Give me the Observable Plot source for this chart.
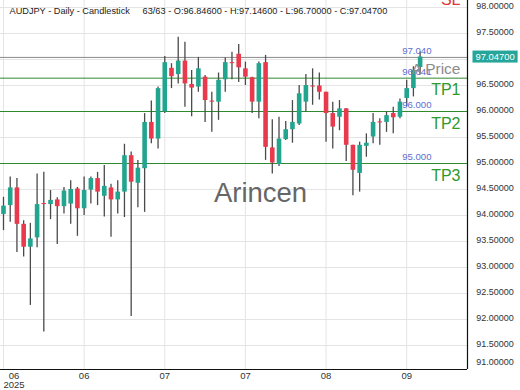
<!DOCTYPE html>
<html><head><meta charset="utf-8">
<script src="https://cdn.jsdelivr.net/npm/d3@7"></script>
<script src="https://cdn.jsdelivr.net/npm/@observablehq/plot@0.6"></script>
<style>
body{margin:0;background:#fff;}
#chart svg{display:block;}
</style></head><body><div id="chart"></div>
<script>
const opens = [94.02,94.19,94.53,93.83,93.39,93.57,94.23,94.21,94.30,94.17,94.22,94.51,94.13,94.49,94.71,94.37,94.53,94.30,94.45,95.15,94.62,94.90,95.79,95.47,95.99,96.83,96.71,96.97,96.52,96.47,96.66,96.20,96.18,96.61,96.94,97.10,96.82,96.65,96.18,96.94,95.30,94.98,95.46,95.65,95.76,96.18,96.49,96.49,96.37,95.96,95.89,96.05,95.35,94.81,95.33,95.51,95.80,95.79,95.96,95.89,96.25,96.44,96.846];
const highs = [94.35,94.74,94.71,93.90,93.85,94.80,94.83,94.48,94.34,94.54,94.67,94.54,94.74,94.74,94.83,94.96,94.60,94.67,95.37,95.22,95.06,95.96,96.20,96.47,97.06,96.92,97.43,97.33,96.79,97.04,96.69,96.37,96.74,97.03,97.14,97.29,96.95,96.66,96.95,97.08,95.84,95.89,95.81,96.21,96.50,96.71,96.82,96.74,96.37,96.18,96.21,96.06,95.35,95.41,95.57,95.96,95.86,95.99,96.08,96.24,96.60,96.86,97.146];
const lows = [93.71,93.87,93.29,93.20,92.27,93.38,91.76,93.92,93.44,94.03,93.83,93.60,94.00,94.22,94.19,93.97,93.58,94.03,93.96,92.06,94.15,94.06,95.38,95.28,95.96,96.44,96.53,96.08,95.90,96.37,95.79,95.60,95.83,96.37,96.61,96.56,96.50,95.96,95.86,95.06,94.80,94.94,95.44,95.39,95.73,95.99,96.12,96.22,95.41,95.28,95.63,95.04,94.38,94.45,95.12,95.38,95.35,95.60,95.57,95.86,96.09,96.28,96.70];
const closes = [94.18,94.53,93.83,93.39,93.55,94.21,94.21,94.29,94.17,94.47,94.50,94.13,94.48,94.71,94.45,94.56,94.30,94.45,95.15,94.64,94.91,95.79,95.47,96.44,96.94,96.67,96.97,96.53,96.45,96.82,96.21,96.18,96.60,96.94,96.92,96.84,96.66,96.18,96.92,95.31,95.01,95.47,95.65,95.79,96.34,96.50,96.47,96.37,95.96,95.70,96.05,95.35,94.87,95.35,95.39,95.79,95.78,95.92,95.88,96.18,96.44,96.79,97.047];

const yTicks = [91.0,91.5,92.0,92.5,93.0,93.5,94.0,94.5,95.0,95.5,96.0,96.5,97.0,97.5,98.0];
const xTickIdx = [0,12,24,36,48,60];
const xTickLabels = ["06\n2025","06","07","07","08","09"];

const priceLevel = [97.04];
const priceLevelLabel = ["97.040"];
const priceLevelName = ["A Price"];
const tpLevels = [96.641, 96.0, 95.0];
const tpLevelLabels = ["96.641","96.000","95.000"];
const tpNames = ["TP1","TP2","TP3"];
const slLevel = [98.37];
const slName = ["SL"];
const lastPrice = 97.047;
const title = "AUDJPY - Daily - Candlestick     63/63 - O:96.84600 - H:97.14600 - L:96.70000 - C:97.04700";
const watermark = "Arincen";

const UP = "#22a58e", DOWN = "#e8394d", TEAL = "#26a69a";
const candles = opens.map((o, i) => ({i, o, h: highs[i], l: lows[i], c: closes[i], up: closes[i] >= o}));

const yDomain = [91.0385, 98.1346];
const xDomain = [-0.446, 69.05];
const font = "'Liberation Sans', Arial, sans-serif";

const plot = Plot.plot({
  width: 520, height: 390,
  marginTop: 0, marginBottom: 21, marginLeft: 0, marginRight: 53,
  x: {type: "linear", domain: xDomain, axis: null},
  y: {type: "linear", domain: yDomain, axis: null},
  style: {fontFamily: font, background: "#fff", overflow: "hidden"},
  marks: [
    Plot.ruleY(yTicks.filter(v => v > yDomain[0]), {y: d => d, stroke: "#e4e4e4", strokeWidth: 1}),
    Plot.ruleX(xTickIdx, {x: d => d, stroke: "#e4e4e4", strokeWidth: 1}),
    Plot.ruleY(priceLevel, {y: d => d, stroke: "#8a8a8a", strokeWidth: 1}),
    Plot.ruleY(tpLevels, {y: d => d, stroke: "#2f8a2f", strokeWidth: 1}),
    Plot.ruleX(candles, {x: "i", y1: "l", y2: "h", stroke: "#4a4a4a", strokeWidth: 1.3}),
    Plot.ruleX(candles.filter(d => d.up), {x: "i", y1: "o", y2: "c", stroke: UP, strokeWidth: 4.6}),
    Plot.ruleX(candles.filter(d => !d.up), {x: "i", y1: "o", y2: "c", stroke: DOWN, strokeWidth: 4.6}),
    // level value labels
    Plot.text(priceLevel, {y: d => d, text: (d, i) => priceLevelLabel[i], frameAnchor: "right", textAnchor: "end", dx: -36, dy: -6.5, fill: "#5b6fd0", fontSize: 9.6}),
    Plot.text(tpLevels, {y: d => d, text: (d, i) => tpLevelLabels[i], frameAnchor: "right", textAnchor: "end", dx: -36, dy: -6.5, fill: "#5b6fd0", fontSize: 9.6}),
    // level names
    Plot.text(priceLevel, {y: d => d, text: (d, i) => priceLevelName[i], frameAnchor: "right", textAnchor: "end", dx: -7, dy: 12, fill: "#8c8c8c", fontSize: 15.5}),
    Plot.text(tpLevels, {y: d => d, text: (d, i) => tpNames[i], frameAnchor: "right", textAnchor: "end", dx: -7, dy: 12, fill: "#2c9a2c", fontSize: 16}),
    Plot.text(slLevel, {y: d => d, text: (d, i) => slName[i], frameAnchor: "right", textAnchor: "end", dx: -7, dy: 12, fill: "#e03333", fontSize: 16}),
    // watermark
    Plot.text([watermark], {text: d => d, frameAnchor: "middle", dx: 26.5, dy: 8.5, fontSize: 27.5, fill: "#666"}),
    // title
    Plot.text([title], {text: d => d, frameAnchor: "top-left", textAnchor: "start", lineAnchor: "top", dx: 9, dy: 6.5, fontSize: 9.2, fill: "#222"}),
    // frame lines
    Plot.ruleX([xDomain[1]], {x: d => d, stroke: "#111", strokeWidth: 1.2}),
    Plot.ruleY([yDomain[0]], {y: d => d, stroke: "#111", strokeWidth: 1.2}),
    // y axis labels
    Plot.text(yTicks.filter(v => v >= 91.5 && Math.abs(v - lastPrice) > 0.15), {y: d => d, text: d => d.toFixed(5), frameAnchor: "right", textAnchor: "start", dx: 8.7, dy: -1, fontSize: 9, fill: "#333"}),
    Plot.text(yTicks.filter(v => v < 91.5), {y: d => d, text: d => d.toFixed(5), frameAnchor: "right", textAnchor: "start", dx: 8.7, dy: -9, fontSize: 9, fill: "#333"}),
    // x axis labels
    Plot.text(xTickIdx.slice(0, 1), {x: d => d, text: (d, i) => xTickLabels[i], frameAnchor: "bottom", lineAnchor: "top", dx: 10.5, dy: 2.7, lineHeight: 0.95, fontSize: 9.5, fill: "#333"}),
    Plot.text(xTickIdx.slice(1), {x: d => d, text: (d, i) => xTickLabels[i + 1], frameAnchor: "bottom", lineAnchor: "top", dy: 2.7, fontSize: 9.5, fill: "#333"}),
    // last price tag text
    Plot.text([lastPrice], {y: d => d, text: d => d.toFixed(5), frameAnchor: "right", textAnchor: "start", dx: 8, fontSize: 9.4, fill: "#fff"})
  ]
});
document.getElementById("chart").appendChild(plot);

// background box for the last price tag
const tag = Array.from(plot.querySelectorAll("text")).find(t => t.textContent === lastPrice.toFixed(5));
if (tag) {
  const bb = tag.getBBox();
  const r = document.createElementNS("http://www.w3.org/2000/svg", "rect");
  r.setAttribute("x", bb.x - 3);
  r.setAttribute("y", bb.y - 0.5);
  r.setAttribute("width", bb.width + 6);
  r.setAttribute("height", bb.height + 1);
  r.setAttribute("fill", TEAL);
  const tr = tag.getAttribute("transform");
  if (tr) r.setAttribute("transform", tr);
  tag.parentNode.insertBefore(r, tag);
}
</script></body></html>
